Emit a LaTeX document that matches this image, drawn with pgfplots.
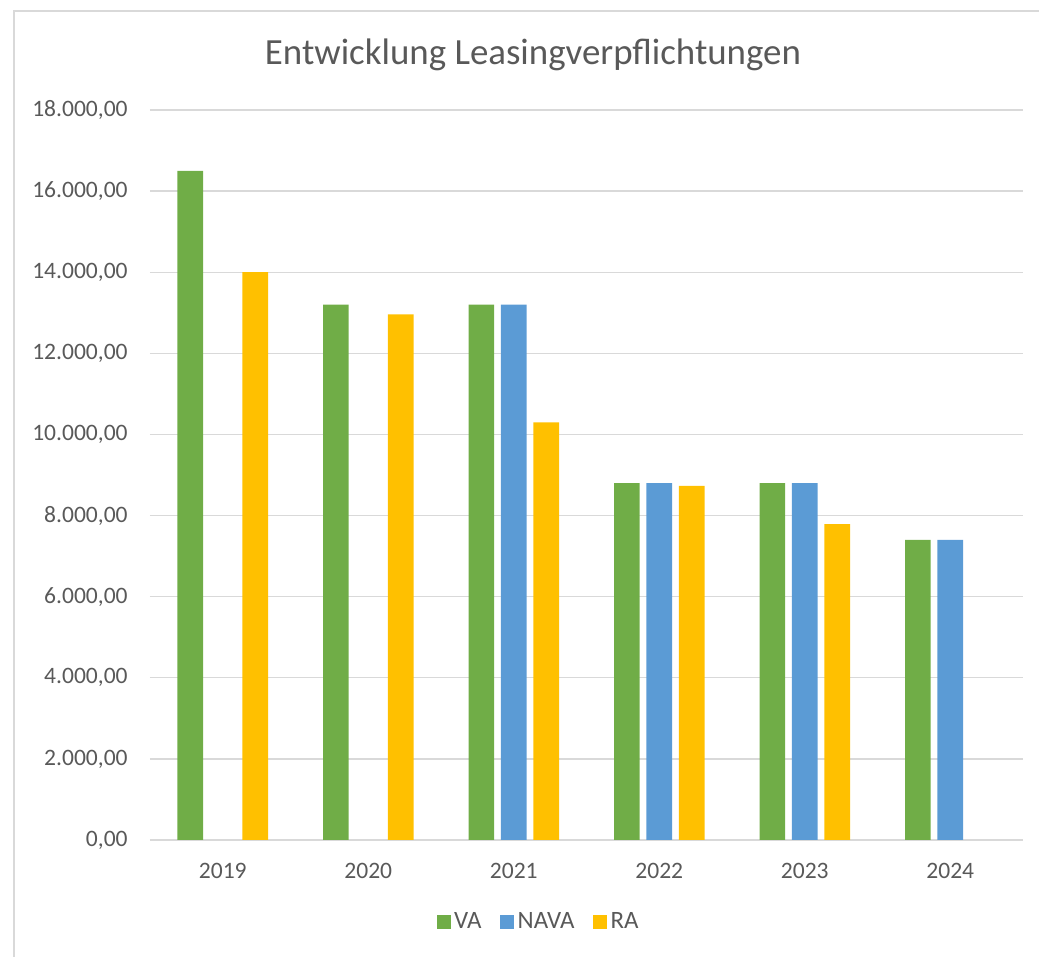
\documentclass[border=0pt]{standalone}
\usepackage{fontspec}
\setmainfont{Carlito}
\usepackage{pgfplots}
\pgfplotsset{compat=1.18}
\definecolor{vaGreen}{HTML}{70AD47}
\definecolor{navaBlue}{HTML}{5B9BD5}
\definecolor{raGold}{HTML}{FFC000}
\definecolor{txtGray}{HTML}{595959}
\definecolor{gridGray}{HTML}{D9D9D9}

\begin{document}
\begin{tikzpicture}
\useasboundingbox (0,0) rectangle (207.8mm,191.4mm);
\draw[gridGray, line width=0.45mm] (2.8mm,0) -- (2.8mm,189.2mm) -- (207.8mm,189.2mm);
\node[txtGray, font=\fontsize{21}{25}\selectfont] at (106.6mm,180.4mm) {Entwicklung Leasingverpflichtungen};
\begin{axis}[
    at={(30mm,23.4mm)}, anchor=south west,
    width=174.6mm, height=146mm, scale only axis,
    xmin=-0.5, xmax=5.5,
    ymin=0, ymax=18000,
    xtick={0,1,2,3,4,5},
    xticklabels={2019,2020,2021,2022,2023,2024},
    ytick={0,2000,...,18000},
    scaled y ticks=false,
    ymajorgrids,
    grid style={gridGray, line width=0.25mm},
    axis line style={draw=none},
    major tick length=0pt,
    tick label style={txtGray, font=\fontsize{13.4}{16}\selectfont},
    yticklabel style={anchor=east, inner sep=0pt, xshift=-4.4mm,
        /pgf/number format/.cd, fixed, fixed zerofill, precision=2,
        use comma, 1000 sep={.}},
    xticklabel style={anchor=north, inner sep=0pt, yshift=-4.6mm},
    /pgf/number format/assume math mode=true,
    bar width=0.176,
    legend columns=3,
    legend style={draw=none, at={(0.446,-0.1123)}, anchor=center,
        font=\fontsize{14.2}{17}\selectfont, text=txtGray,
        /tikz/every even column/.append style={column sep=3mm}},
    legend image code/.code={\fill (0mm,-1.4mm) rectangle (2.8mm,1.4mm);},
]
% VA
\addplot[ybar, fill=vaGreen, draw=none, bar shift=-0.223] coordinates {
(0,16500) (1,13200) (2,13200) (3,8800) (4,8800) (5,7400)
};
% NAVA
\addplot[ybar, fill=navaBlue, draw=none, bar shift=0] coordinates {
(2,13200) (3,8800) (4,8800) (5,7400)
};
% RA
\addplot[ybar, fill=raGold, draw=none, bar shift=0.223] coordinates {
(0,14000) (1,12960) (2,10300) (3,8730) (4,7790)
};
\legend{VA,NAVA,RA}
\end{axis}
\end{tikzpicture}
\end{document}
